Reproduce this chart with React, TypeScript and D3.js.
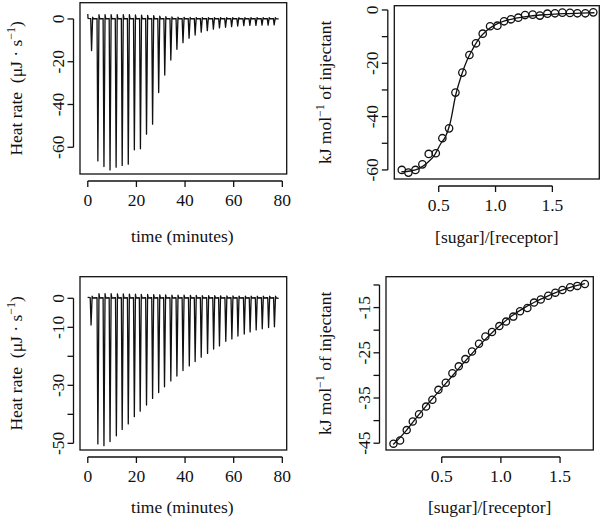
import React from 'react';
import * as d3 from 'd3';

// ---------- data ----------
const topTimes = [1.2, 3.8, 6.3, 8.8, 11.3, 13.8, 16.3, 18.8, 21.3, 23.8, 26.3, 28.8, 31.3, 33.8, 36.3, 38.8, 41.3, 43.8, 46.3, 48.8, 51.3, 53.8, 56.3, 58.8, 61.3, 63.8, 66.3, 68.8, 71.3, 73.8, 76.3];
const topPeaks = [-14.8, -66.4, -69, -70.6, -69.3, -68.5, -67.9, -61.2, -60.7, -53.9, -49.2, -34.4, -26.2, -19.2, -14.2, -11.1, -9.0, -7.5, -6.2, -5.5, -4.8, -4.2, -3.9, -3.6, -3.3, -3.1, -3.0, -3.0, -2.9, -2.9, -2.8];
const botTimes = [1.0, 3.8, 6.3, 8.8, 11.4, 13.8, 16.3, 18.8, 21.2, 23.8, 26.3, 28.8, 31.2, 33.8, 36.3, 38.8, 41.4, 43.8, 46.3, 48.9, 51.4, 53.8, 56.4, 58.9, 61.4, 64.0, 66.4, 68.9, 71.4, 74.0, 76.4];
const botPeaks = [-9.2, -50.2, -50.8, -49.4, -47.4, -45.2, -43.3, -40.8, -38.9, -36.8, -34.5, -32.5, -30.5, -28.5, -26.8, -24.9, -23.3, -21.8, -20.3, -19.0, -17.5, -16.4, -14.8, -14.0, -13.0, -12.3, -11.6, -10.9, -10.5, -10.1, -9.8];
const runEnd = 78.5;

const topRatio = [0.175, 0.233, 0.295, 0.356, 0.412, 0.474, 0.532, 0.591, 0.647, 0.708, 0.770, 0.828, 0.887, 0.952, 1.016, 1.075, 1.136, 1.2, 1.26, 1.327, 1.39, 1.456, 1.523, 1.588, 1.655, 1.72, 1.79, 1.86];
const topHeat = [-60, -61, -60, -57.9, -54, -53.75, -48.1, -44.4, -31, -23.5, -16.9, -12.5, -8.9, -6.1, -5.9, -4.25, -3.5, -2.9, -1.9, -1.75, -2.1, -1.4, -1.25, -1.0, -1.1, -1.25, -1.25, -0.9];
const topFitX = [0.17, 0.25, 0.33, 0.4, 0.46, 0.52, 0.56, 0.6, 0.65, 0.7, 0.75, 0.8, 0.86, 0.92, 1.0, 1.08, 1.18, 1.3, 1.45, 1.6, 1.75, 1.87];
const topFitY = [-60.7, -60.4, -59.4, -57.3, -54.6, -50.0, -47.5, -42.5, -31.8, -24.5, -18.8, -14.6, -10.5, -7.8, -5.5, -4.1, -3.1, -2.3, -1.75, -1.4, -1.2, -1.05];

const botRatio = [0.092, 0.148, 0.204, 0.255, 0.308, 0.368, 0.421, 0.472, 0.534, 0.59, 0.644, 0.7, 0.756, 0.815, 0.869, 0.925, 0.987, 1.044, 1.105, 1.162, 1.224, 1.28, 1.337, 1.4, 1.46, 1.52, 1.585, 1.646, 1.71];
const botHeat = [-45.1, -44.4, -42.1, -40.2, -38.6, -36.9, -35.4, -33.2, -31.6, -29.5, -28.0, -26.4, -24.7, -23.0, -21.4, -20.4, -19.1, -18.1, -17.0, -15.8, -15.1, -13.9, -13.2, -12.4, -11.7, -11.1, -10.5, -10.2, -9.8];
const botFitX = [0.09, 0.2, 0.3, 0.4, 0.5, 0.6, 0.7, 0.8, 0.9, 1.0, 1.1, 1.2, 1.3, 1.4, 1.5, 1.6, 1.71];
const botFitY = [-45.3, -42.2, -38.9, -35.8, -32.8, -29.8, -26.8, -23.9, -21.2, -18.8, -16.7, -15.0, -13.6, -12.4, -11.3, -10.4, -9.7];

const timeTicks = [0, 20, 40, 60, 80];
const ratioTicks = [0.5, 1.0, 1.5];
const tlYTicks = [0, -20, -40, -60];
const tlYLabels = [0, -20, -40, -60];
const trYTicks = [0, -10, -20, -30, -40, -50, -60];
const trYLabels = [0, -20, -40, -60];
const blYTicks = [0, -10, -20, -30, -40, -50];
const blYLabels = [0, -10, -30, -50];
const brYTicks = [-45, -40, -35, -30, -25, -20, -15, -10];
const brYLabels = [-45, -35, -25, -15];

const FONT = '"Liberation Serif", "Times New Roman", serif';
const FS = 17.5;
const SW = 1.3;

type Box = { x0: number; x1: number; y0: number; y1: number };

function Axes({ box, x, y, xt, yt, yl, fmtX }: any) {
  const ax = box.x0 - 6.5;
  const ay = box.y1 + 7;
  return (
    <g stroke="#111" fill="none" strokeWidth={SW}>
      <rect x={box.x0} y={box.y0} width={box.x1 - box.x0} height={box.y1 - box.y0} />
      <line x1={x(xt[0])} x2={x(xt[xt.length - 1])} y1={ay} y2={ay} />
      {xt.map((t: number) => (
        <line key={'xt' + t} x1={x(t)} x2={x(t)} y1={ay} y2={ay + 6} />
      ))}
      {xt.map((t: number) => (
        <text key={'xl' + t} x={x(t)} y={ay + 25} textAnchor="middle" stroke="none" fill="#111" fontFamily={FONT} fontSize={FS}>
          {fmtX(t)}
        </text>
      ))}
      <line x1={ax} x2={ax} y1={y(yt[0])} y2={y(yt[yt.length - 1])} />
      {yt.map((t: number) => (
        <line key={'yt' + t} x1={ax} x2={ax - 6} y1={y(t)} y2={y(t)} />
      ))}
      {yl.map((t: number) => (
        <text key={'yl' + t} transform={`translate(${ax - 9.5},${y(t)}) rotate(-90)`} textAnchor="middle" stroke="none" fill="#111" fontFamily={FONT} fontSize={FS}>
          {String(t)}
        </text>
      ))}
    </g>
  );
}

function thermoPath(times: number[], peaks: number[], x: any, y: any, start: number) {
  const pts: [number, number][] = [[0, start], [0.1, 0.3]];
  times.forEach((t, i) => {
    const hook = 0.5 + 0.022 * Math.abs(peaks[i]);
    pts.push([t, 0.2], [t + 0.35, peaks[i]], [t + 0.8, hook], [t + 1.1, 0.1]);
  });
  pts.push([runEnd, 0]);
  return d3.line<[number, number]>().x((d) => x(d[0])).y((d) => y(d[1]))(pts) || '';
}

function Thermo({ box, times, peaks, yDom, yt, yl, xLabelY, yLabelX, start }: any) {
  const x = d3.scaleLinear().domain([-3.2, 81.8]).range([box.x0, box.x1]);
  const y = d3.scaleLinear().domain(yDom).range([box.y0, box.y1]);
  const cy = (box.y0 + box.y1) / 2;
  return (
    <g>
      <path d={thermoPath(times, peaks, x, y, start)} fill="none" stroke="#111" strokeWidth={1.3} strokeLinejoin="round" />
      <Axes box={box} x={x} y={y} xt={timeTicks} yt={yt} yl={yl} fmtX={(t: number) => String(t)} />
      <text x={(box.x0 + box.x1) / 2 - 1} y={xLabelY} textAnchor="middle" fill="#111" fontFamily={FONT} fontSize={FS}>time (minutes)</text>
      <text transform={`translate(${yLabelX},${cy}) rotate(-90)`} textAnchor="middle" fill="#111" fontFamily={FONT} fontSize={FS}>
        {'Heat rate\u00a0\u00a0(\u03bcJ \u00b7 s'}
        <tspan dy={-7} fontSize={12}>{'\u22121'}</tspan>
        <tspan dy={7}>)</tspan>
      </text>
    </g>
  );
}

function Binding({ box, xs, ys, fx, fy, xDom, yDom, yt, yl, xLabelY, yLabelX, r }: any) {
  const x = d3.scaleLinear().domain(xDom).range([box.x0, box.x1]);
  const y = d3.scaleLinear().domain(yDom).range([box.y0, box.y1]);
  const fit = fx.map((v: number, i: number) => [v, fy[i]] as [number, number]);
  const line = d3.line<[number, number]>().x((d) => x(d[0])).y((d) => y(d[1])).curve(d3.curveMonotoneX);
  const cy = (box.y0 + box.y1) / 2;
  return (
    <g>
      <path d={line(fit) || ''} fill="none" stroke="#111" strokeWidth={SW} />
      {xs.map((v: number, i: number) => (
        <circle key={i} cx={x(v)} cy={y(ys[i])} r={r} fill="none" stroke="#111" strokeWidth={SW} />
      ))}
      <Axes box={box} x={x} y={y} xt={ratioTicks} yt={yt} yl={yl} fmtX={(t: number) => t.toFixed(1)} />
      <text x={(box.x0 + box.x1) / 2} y={xLabelY} textAnchor="middle" fill="#111" fontFamily={FONT} fontSize={FS}>[sugar]/[receptor]</text>
      <text transform={`translate(${yLabelX},${cy}) rotate(-90)`} textAnchor="middle" fill="#111" fontFamily={FONT} fontSize={FS}>
        {'kJ mol'}
        <tspan dy={-7} fontSize={12}>{'\u22121'}</tspan>
        <tspan dy={7}>{'\u00a0of injectant'}</tspan>
      </text>
    </g>
  );
}

export default function App() {
  const tl: Box = { x0: 80, x1: 286.7, y0: 2.7, y1: 174 };
  const tr: Box = { x0: 394.3, x1: 599.3, y0: 5.7, y1: 179 };
  const bl: Box = { x0: 80, x1: 286.7, y0: 276.7, y1: 450 };
  const br: Box = { x0: 386, x1: 593.3, y0: 276.7, y1: 450 };
  return (
    <svg width={606} height={522} style={{ position: 'absolute', left: 0, top: 0, background: '#fff' }}>
      <rect width={606} height={522} fill="#fff" />
      <Thermo box={tl} times={topTimes} peaks={topPeaks} yDom={[7.6, -72.5]} yt={tlYTicks} yl={tlYLabels} xLabelY={242} yLabelX={21.5} start={2.3} />
      <Binding box={tr} xs={topRatio} ys={topHeat} fx={topFitX} fy={topFitY} xDom={[0.109, 1.913]} yDom={[1.6, -63.4]} yt={trYTicks} yl={trYLabels} xLabelY={243} yLabelX={331} r={3.7} />
      <Thermo box={bl} times={botTimes} peaks={botPeaks} yDom={[7.45, -52.3]} yt={blYTicks} yl={blYLabels} xLabelY={513} yLabelX={21.5} start={0.2} />
      <Binding box={br} xs={botRatio} ys={botHeat} fx={botFitX} fy={botFitY} xDom={[0.029, 1.781]} yDom={[-8.17, -46.5]} yt={brYTicks} yl={brYLabels} xLabelY={513} yLabelX={331} r={3.6} />
    </svg>
  );
}
